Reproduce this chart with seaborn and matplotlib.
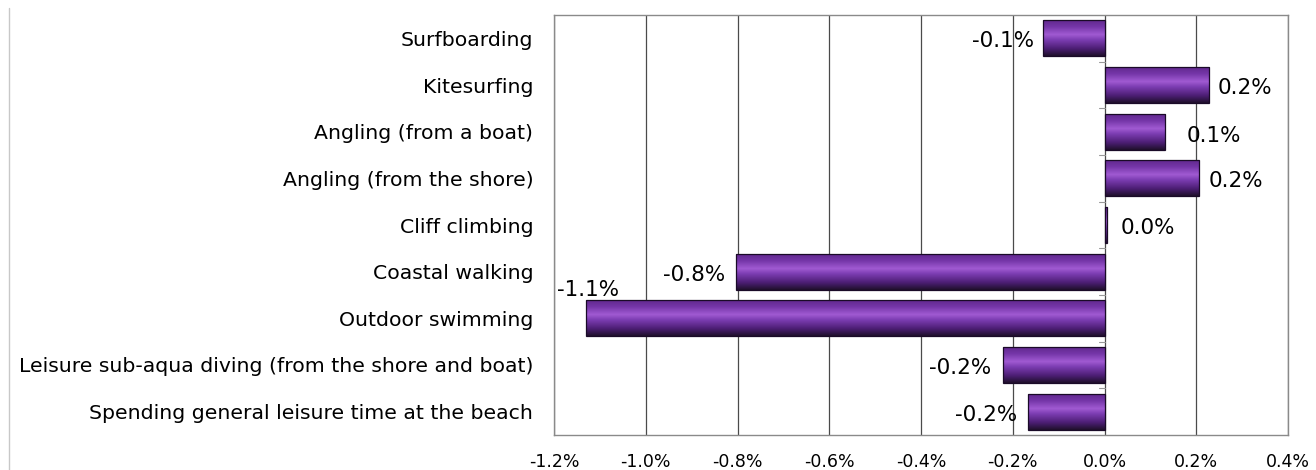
import numpy as np
import pandas as pd
import matplotlib
matplotlib.use("Agg")
import matplotlib.pyplot as plt
from matplotlib.colors import LinearSegmentedColormap
from matplotlib.lines import Line2D
import seaborn as sns

# --- data ---
categories = [
    "Surfboarding",
    "Kitesurfing",
    "Angling (from a boat)",
    "Angling (from the shore)",
    "Cliff climbing",
    "Coastal walking",
    "Outdoor swimming",
    "Leisure sub-aqua diving (from the shore and boat)",
    "Spending general leisure time at the beach",
]
change_pct = [-0.133, 0.227, 0.131, 0.205, 0.006, -0.804, -1.131, -0.222, -0.167]
value_labels = ["-0.1%", "0.2%", "0.1%", "0.2%", "0.0%", "-0.8%", "-1.1%", "-0.2%", "-0.2%"]
x_ticks = [-1.2, -1.0, -0.8, -0.6, -0.4, -0.2, 0.0, 0.2, 0.4]

df = pd.DataFrame({"Activity": categories, "Change": change_pct})

# label nudges in pixels (dx, dy, ha) - mimics the excel label placement
label_nudge = [
    (-9, -3, "right"), (9, -3, "left"), (22, -4, "left"), (10, -3, "left"),
    (13, -3, "left"), (-10, -3, "right"), (2, 28, "center"), (-11, -3, "right"),
    (-11, -3, "right"),
]

sns.set_style("white")
plt.rcParams["font.family"] = ["DejaVu Sans"]

fig = plt.figure(figsize=(13.16, 4.70), dpi=100)
ax = fig.add_axes([554 / 1316, 1 - 435 / 470, (1288 - 554) / 1316, (435 - 15) / 470])

sns.barplot(data=df, y="Activity", x="Change", orient="h", color="#7a3ab0",
            width=0.77, edgecolor="#1a0a28", linewidth=0.9, ax=ax, zorder=3)

# cylinder-like purple shading, clipped to each bar
shade = LinearSegmentedColormap.from_list("barshade", [
    (0.0, "#62298f"), (0.18, "#7536a8"), (0.40, "#a05ad2"),
    (0.55, "#7c3db2"), (0.80, "#4c1e74"), (1.0, "#20102c"),
])
grad = np.linspace(0, 1, 64).reshape(-1, 1)
for p in ax.patches:
    x0, y0 = p.get_x(), p.get_y()
    w, h = p.get_width(), p.get_height()
    im = ax.imshow(grad, cmap=shade, aspect="auto", origin="upper",
                   extent=(x0, x0 + w, y0 + h, y0), zorder=3.5)
    im.set_clip_path(p)
    p.set_facecolor("none")
    p.set_zorder(4)

ax.set_xlim(-1.2, 0.4)
ax.set_ylim(len(categories) - 0.5, -0.5)

# data labels
for i, (v, lab) in enumerate(zip(change_pct, value_labels)):
    dx, dy, ha = label_nudge[i]
    ax.annotate(lab, xy=(v, i), xytext=(dx, dy), textcoords="offset pixels",
                ha=ha, va="center", fontsize=15.5, color="black", zorder=6)

# small category tick marks on the zero axis
for b in np.arange(len(categories) - 1) + 0.5:
    ax.plot([-0.012, 0], [b, b], color="#999999", lw=0.8, zorder=2, clip_on=False)

ax.set_xticks(x_ticks)
ax.set_xticklabels([f"{t:.1f}%" for t in x_ticks], fontsize=12.5, color="black")
ax.tick_params(axis="x", direction="out", length=6, color="#888888", pad=7)
ax.tick_params(axis="y", length=0, pad=15, labelsize=14.7, labelcolor="black")
ax.xaxis.grid(True, color="#4a4a4a", lw=0.9)
ax.set_axisbelow(True)
ax.set_xlabel("")
ax.set_ylabel("")
for s in ax.spines.values():
    s.set_color("#8a8a8a")
    s.set_linewidth(1.0)

# left border of the outer chart frame
fig.add_artist(Line2D([9 / 1316, 9 / 1316], [0, 1 - 8 / 470], color="#c8c8c8", lw=1.0))

fig.savefig("out.png", dpi=100)
